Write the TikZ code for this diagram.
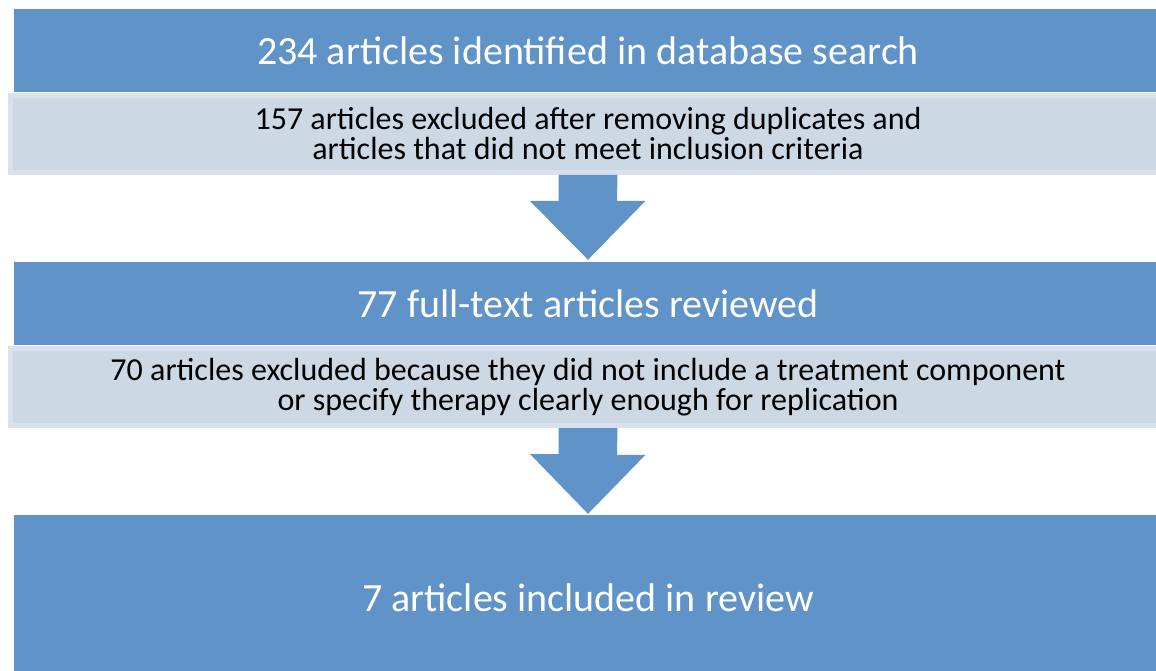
\documentclass[tikz,border=0pt]{standalone}
\usepackage{fontspec}
\setmainfont{Carlito}
\definecolor{stepblue}{RGB}{96, 147, 199}
\definecolor{notegray}{RGB}{205, 216, 229}
\definecolor{noteedge}{RGB}{217, 225, 236}
\usetikzlibrary{positioning, calc}

\tikzset{
  stagebox/.style={fill=stepblue, text=white, minimum width=1148pt, inner sep=0pt,
    font=\fontsize{40}{48}\selectfont, align=center},
  notebox/.style={fill=notegray, draw=noteedge, line width=5pt, minimum width=1155pt,
    minimum height=77pt, inner sep=0pt, font=\fontsize{32}{30}\selectfont, align=center}
}

\begin{document}
\begin{tikzpicture}[x=1pt, y=-1pt]
  \useasboundingbox (0,0) rectangle (1156,671);
  \clip (0,0) rectangle (1156,671);

  % stages and exclusions
  \node[stagebox, minimum height=83pt] (found) at (588, 50.5) {234 articles identified in database search};
  \node[notebox] (excl1) at (588, 134) {157 articles excluded after removing duplicates and\\articles that did not meet inclusion criteria};

  \node[stagebox, minimum height=83pt] (review) at (588, 303.5) {77 full-text articles reviewed};
  \node[notebox] (excl2) at (588, 387) {70 articles excluded because they did not include a treatment component\\or specify therapy clearly enough for replication};

  \node[stagebox, minimum height=165pt] (final) at (588, 597.5) {7 articles included in review};

  % block arrows
  \fill[stepblue] ([xshift=-29.5pt]excl1.south) -- ++(0,26) -- ++(-28.5,0) -- ([yshift=2pt]review.north)
    -- ++(57.5,-59) -- ++(-28.5,0) -- ([xshift=29.5pt]excl1.south) -- cycle;
  \fill[stepblue] ([xshift=-29.5pt]excl2.south) -- ++(0,26) -- ++(-28.5,0) -- ([yshift=1pt]final.north)
    -- ++(57.5,-59) -- ++(-28.5,0) -- ([xshift=29.5pt]excl2.south) -- cycle;
\end{tikzpicture}
\end{document}
